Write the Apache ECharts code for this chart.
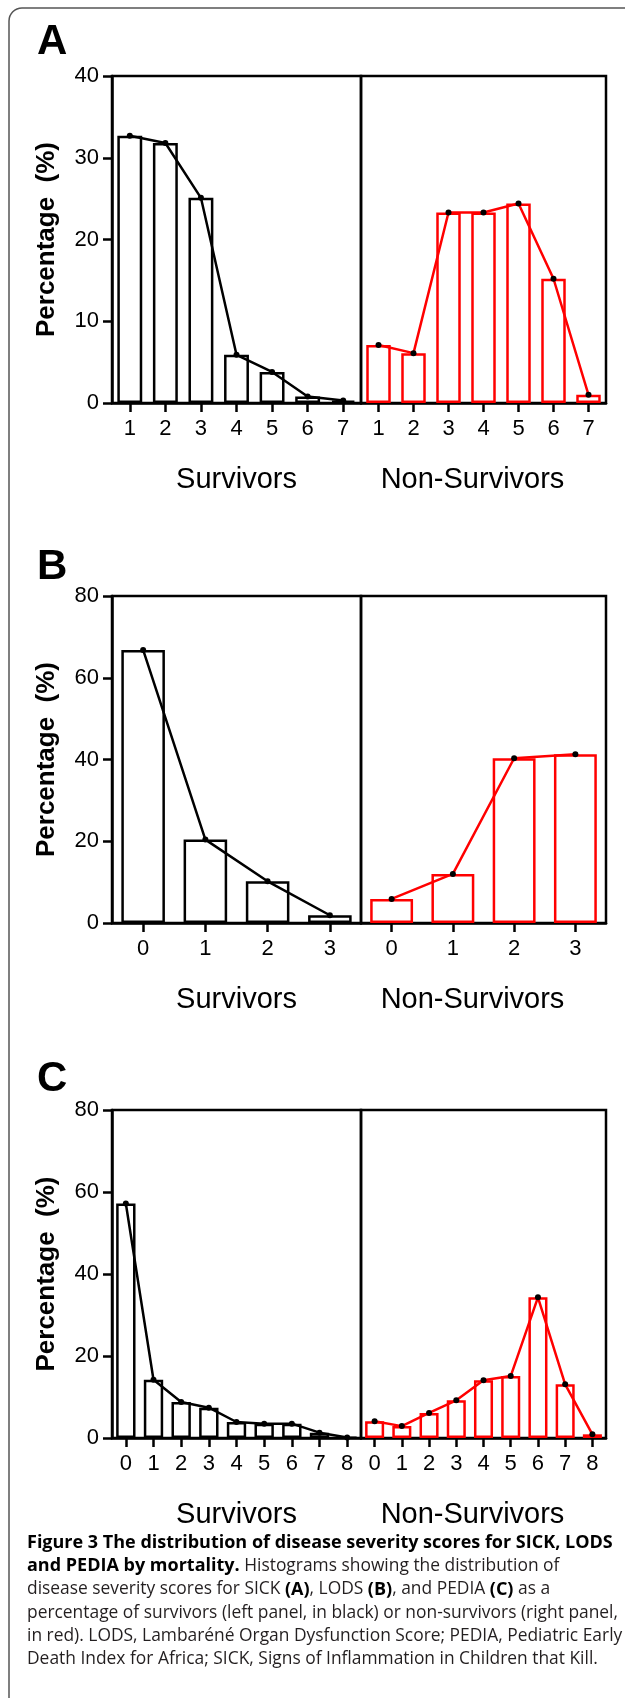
<!DOCTYPE html>
<html>
<head>
<meta charset="utf-8">
<script src="https://cdn.jsdelivr.net/npm/echarts@6/dist/echarts.min.js"></script>
<style>
html,body{margin:0;padding:0;background:#fff;}
#chart{width:625px;height:1698px;}
</style>
</head>
<body>
<div id="chart"></div>
<script>
// score categories per panel
var catsA = ['1','2','3','4','5','6','7'];
var catsB = ['0','1','2','3'];
var catsC = ['0','1','2','3','4','5','6','7','8'];
// percentage of survivors / non-survivors
var survA = [32.7, 31.8, 25.1, 5.9, 3.8, 0.8, 0.3];
var nonA  = [7.1, 6.1, 23.3, 23.3, 24.4, 15.2, 1.0];
var survB = [66.8, 20.4, 10.2, 1.9];
var nonB  = [5.9, 12.0, 40.3, 41.3];
var survC = [57.2, 14.2, 8.8, 7.4, 3.9, 3.5, 3.5, 1.3, 0.1];
var nonC  = [4.1, 2.9, 6.1, 9.2, 14.1, 15.1, 34.3, 13.1, 0.9];
var yMaxA = 40, yStepA = 10;
var yMaxB = 80, yStepB = 20;
var yMaxC = 80, yStepC = 20;

var axisFont = 'Liberation Sans';
var grids = [], xAxes = [], yAxes = [], series = [];

function addPanel(top, height, cats, surv, non, ymax, step){
	var gi = grids.length;
	// left = survivors, right = non-survivors
	grids.push({left:112, top:top, width:249, height:height, show:true, borderColor:'#000', borderWidth:2.5, backgroundColor:'transparent'});
	grids.push({left:361, top:top, width:245, height:height, show:true, borderColor:'#000', borderWidth:2.5, backgroundColor:'transparent'});
	var names = ['Survivors','Non-Survivors'];
	for (var k=0;k<2;k++){
		xAxes.push({
			type:'category', gridIndex:gi+k, data:cats, boundaryGap:true,
			axisLine:{show:true, lineStyle:{color:'#000', width:2.5}},
			axisTick:{show:true, alignWithLabel:true, length:9, lineStyle:{color:'#000', width:2.5}},
			axisLabel:{color:'#000', fontFamily:axisFont, fontSize:22, margin:15, interval:0},
			name:names[k], nameLocation:'middle', nameGap:62,
			nameTextStyle:{color:'#000', fontFamily:axisFont, fontSize:29, padding:k==1?[0,22,0,0]:0}
		});
		yAxes.push({
			type:'value', gridIndex:gi+k, min:0, max:ymax, interval:step,
			show:k==0,
			axisLine:{show:true, lineStyle:{color:'#000', width:2.5}},
			axisTick:{show:true, length:9, lineStyle:{color:'#000', width:2.5}},
			axisLabel:{color:'#000', fontFamily:axisFont, fontSize:22, margin:13},
			splitLine:{show:false},
			name:k==0?'Percentage  (%)':'', nameLocation:'middle', nameGap:52, nameRotate:90,
			nameTextStyle:{color:'#000', fontFamily:axisFont, fontSize:26, fontWeight:'bold'}
		});
		var col = k==0 ? '#000' : '#ff0000';
		var vals = k==0 ? surv : non;
		series.push({
			type:'bar', xAxisIndex:gi+k, yAxisIndex:gi+k, data:vals, barWidth:'70%',
			itemStyle:{color:'rgba(255,255,255,0)', borderColor:col, borderWidth:2.5},
			silent:true
		});
		series.push({
			type:'line', xAxisIndex:gi+k, yAxisIndex:gi+k, data:vals,
			symbol:'circle', symbolSize:6, showSymbol:true,
			itemStyle:{color:'#000', borderWidth:0},
			lineStyle:{color:col, width:2.5}, z:5, silent:true
		});
	}
}

addPanel(76, 327, catsA, survA, nonA, yMaxA, yStepA);
addPanel(596, 327, catsB, survB, nonB, yMaxB, yStepB);
addPanel(1110, 328, catsC, survC, nonC, yMaxC, yStepC);

var capFont = 'Open Sans';
var capRich = {
	b:{fontFamily:capFont, fontSize:18, fontWeight:'bold', fill:'#000'},
	n:{fontFamily:capFont, fontSize:17.4, fill:'#231f20'}
};
var capLines = [
	'{b|Figure 3 The distribution of disease severity scores for SICK, LODS}',
	'{b|and PEDIA by mortality.}{n| Histograms showing the distribution of}',
	'{n|disease severity scores for SICK }{b|(A)}{n|, LODS }{b|(B)}{n|, and PEDIA }{b|(C)}{n| as a}',
	'{n|percentage of survivors (left panel, in black) or non-survivors (right panel,}',
	'{n|in red). LODS, Lambaréné Organ Dysfunction Score; PEDIA, Pediatric Early}',
	'{n|Death Index for Africa; SICK, Signs of Inflammation in Children that Kill.}'
];

var graphics = [
	{type:'rect', shape:{x:9, y:8, width:700, height:1800, r:13}, style:{fill:'none', stroke:'#555', lineWidth:1.5}, z:-1},
	{type:'text', x:37, y:42, style:{text:'A', fontFamily:axisFont, fontSize:42, fontWeight:'bold', fill:'#000', verticalAlign:'middle'}},
	{type:'text', x:37, y:567, style:{text:'B', fontFamily:axisFont, fontSize:42, fontWeight:'bold', fill:'#000', verticalAlign:'middle'}},
	{type:'text', x:37, y:1079, style:{text:'C', fontFamily:axisFont, fontSize:42, fontWeight:'bold', fill:'#000', verticalAlign:'middle'}}
];
for (var i=0;i<capLines.length;i++){
	graphics.push({type:'text', x:27, y:1543 + i*23.2, style:{text:capLines[i], rich:capRich, verticalAlign:'middle'}});
}

var myChart = echarts.init(document.getElementById('chart'), null, {renderer:'canvas'});
myChart.setOption({
	backgroundColor:'#fff',
	animation:false,
	grid:grids,
	xAxis:xAxes,
	yAxis:yAxes,
	series:series,
	graphic:graphics
});
</script>
</body>
</html>
